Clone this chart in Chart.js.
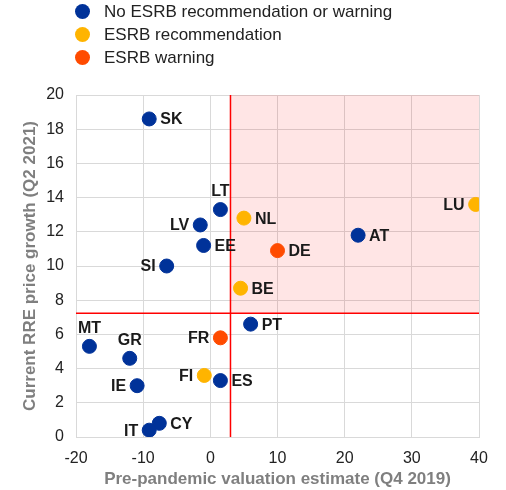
<!DOCTYPE html>
<html>
<head>
<meta charset="utf-8">
<script src="https://cdn.jsdelivr.net/npm/chart.js@4"></script>
<style>
  body { margin: 0; background: #fff; }
  #wrap { position: relative; width: 506px; height: 490px; }
  #legend { position: absolute; left: 75px; top: 1px; font: 17px "Liberation Sans", Arial, sans-serif; color: #222; }
  #legend div { height: 22.8px; line-height: 22.8px; white-space: nowrap; }
  #legend span { display: inline-block; width: 15px; height: 15px; border-radius: 50%; margin-right: 14px; vertical-align: -2px; }
</style>
</head>
<body>
<div id="wrap">
  <canvas id="chart" width="506" height="490"></canvas>
  <div id="legend"></div>
</div>
<script>
// countries and their values
const countries = ['SK', 'LT', 'LV', 'EE', 'SI', 'AT', 'PT', 'MT', 'GR', 'IE', 'ES', 'CY', 'IT',
                   'NL', 'BE', 'LU', 'FI', 'DE', 'FR'];
const valuation = [-9.1, 1.5, -1.5, -1.0, -6.5, 22.0, 6.0, -18.0, -12.0, -10.9, 1.5, -7.6, -9.1,
                   5.0, 4.5, 39.5, -0.9, 10.0, 1.5];
const priceGrowth = [18.6, 13.3, 12.4, 11.2, 10.0, 11.8, 6.6, 5.3, 4.6, 3.0, 3.3, 0.8, 0.4,
                     12.8, 8.7, 13.6, 3.6, 10.9, 5.8];
// 0 = none, 1 = recommendation, 2 = warning
const esrbStatus = [0, 0, 0, 0, 0, 0, 0, 0, 0, 0, 0, 0, 0,
                    1, 1, 1, 1, 2, 2];
const groupNames = ['No ESRB recommendation or warning', 'ESRB recommendation', 'ESRB warning'];
const groupColors = ['#003299', '#FFB400', '#FF4B00'];

// thresholds
const valuationThreshold = 3;
const growthThreshold = 7.24;

// where each label sits next to its dot
const labelSide = { LV: 'left', SI: 'left', IE: 'left', IT: 'left', FI: 'left', FR: 'left', LU: 'left',
                    LT: 'above', MT: 'above', GR: 'above' };

const datasets = groupNames.map((name, g) => ({
  label: name,
  backgroundColor: groupColors[g],
  borderColor: groupColors[g],
  pointRadius: 7,
  pointHoverRadius: 7,
  data: countries
    .map((c, i) => ({ x: valuation[i], y: priceGrowth[i], name: c, g: esrbStatus[i] }))
    .filter(p => p.g === g)
}));

document.getElementById('legend').innerHTML = groupNames
  .map((n, g) => '<div><span style="background:' + groupColors[g] + '"></span>' + n + '</div>')
  .join('');

const zonePlugin = {
  id: 'zone',
  beforeDatasetsDraw(chart) {
    const { ctx, chartArea, scales } = chart;
    const xv = scales.x.getPixelForValue(valuationThreshold);
    const yv = scales.y.getPixelForValue(growthThreshold);
    ctx.save();
    ctx.fillStyle = 'rgba(255, 0, 0, 0.1)';
    ctx.fillRect(xv, chartArea.top, chartArea.right - xv, yv - chartArea.top);
    ctx.strokeStyle = '#ff0000';
    ctx.lineWidth = 1.5;
    ctx.beginPath();
    ctx.moveTo(xv, chartArea.top);
    ctx.lineTo(xv, chartArea.bottom);
    ctx.moveTo(chartArea.left, yv);
    ctx.lineTo(chartArea.right, yv);
    ctx.stroke();
    ctx.restore();
  },
  afterDatasetsDraw(chart) {
    const ctx = chart.ctx;
    ctx.save();
    ctx.font = 'bold 16px "Liberation Sans", Arial, sans-serif';
    ctx.fillStyle = '#1a1a1a';
    ctx.textBaseline = 'middle';
    chart.data.datasets.forEach((ds, di) => {
      chart.getDatasetMeta(di).data.forEach((pt, i) => {
        const name = ds.data[i].name;
        const side = labelSide[name] || 'right';
        if (side === 'left') {
          ctx.textAlign = 'right';
          ctx.fillText(name, pt.x - 11, pt.y + 1);
        } else if (side === 'above') {
          ctx.textAlign = 'center';
          ctx.fillText(name, pt.x, pt.y - 18);
        } else {
          ctx.textAlign = 'left';
          ctx.fillText(name, pt.x + 11, pt.y + 1);
        }
      });
    });
    ctx.restore();
  }
};

new Chart(document.getElementById('chart'), {
  type: 'scatter',
  data: { datasets: datasets },
  options: {
    responsive: false,
    animation: false,
    devicePixelRatio: 1,
    layout: { padding: { top: 95, right: 27, left: 0, bottom: 0 } },
    plugins: { legend: { display: false }, tooltip: { enabled: false } },
    scales: {
      x: {
        min: -20, max: 40,
        afterFit(scale) { scale.height = 53; },
        ticks: { stepSize: 10, padding: 12, color: '#222', font: { size: 16, family: '"Liberation Sans", Arial' } },
        grid: { color: '#d9d9d9', drawTicks: false },
        border: { color: '#d9d9d9' },
        title: {
          display: true,
          text: 'Pre-pandemic valuation estimate (Q4 2019)',
          color: '#7f7f7f',
          font: { size: 17, weight: 'bold', family: '"Liberation Sans", Arial' },
          padding: { top: 0, bottom: 0 }
        }
      },
      y: {
        min: 0, max: 20,
        afterFit(scale) { scale.width = 76; },
        ticks: { stepSize: 2, padding: 12, color: '#222', font: { size: 16, family: '"Liberation Sans", Arial' } },
        grid: { color: '#d9d9d9', drawTicks: false },
        border: { color: '#d9d9d9' },
        title: {
          display: true,
          text: 'Current RRE price growth (Q2 2021)',
          color: '#7f7f7f',
          font: { size: 17, weight: 'bold', family: '"Liberation Sans", Arial' },
          padding: { top: 20, bottom: 0 }
        }
      }
    }
  },
  plugins: [zonePlugin]
});
</script>
</body>
</html>
